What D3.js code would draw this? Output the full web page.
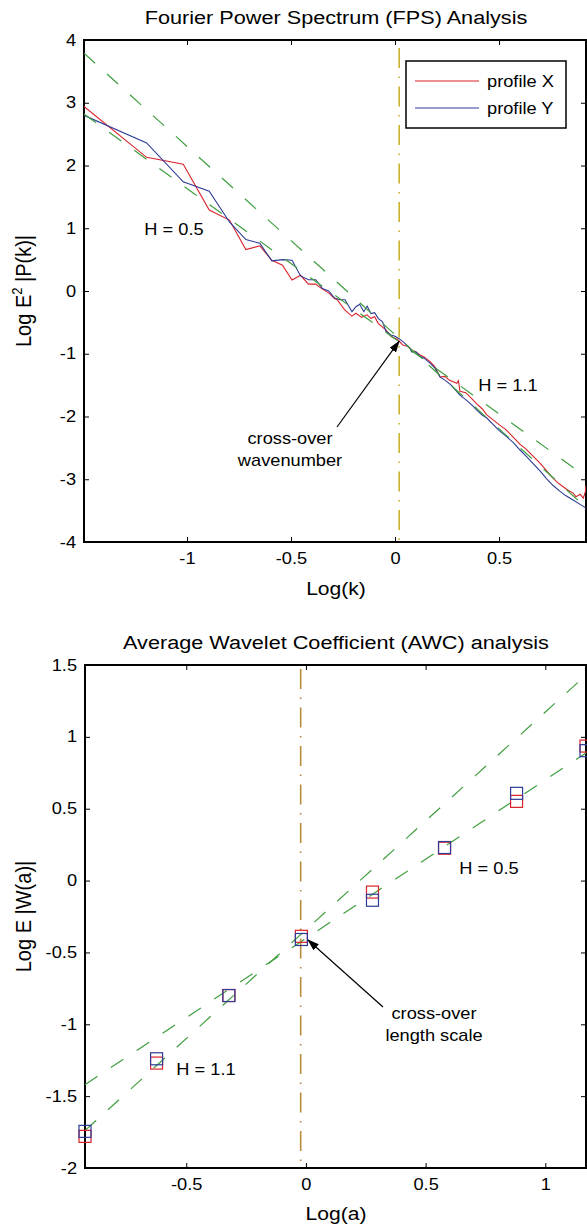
<!DOCTYPE html>
<html>
<head>
<meta charset="utf-8">
<script src="https://cdn.jsdelivr.net/npm/d3@7"></script>
<style>
  body { margin: 0; background: #fff; }
  text { font-family: "Liberation Sans", Arial, sans-serif; fill: #000; }
</style>
</head>
<body>
<div id="viz-container"></div>
<script>
// ---- FPS panel data ----
let fpsXk = [-1.495, -1.194, -1.018, -0.893, -0.796, -0.717, -0.65, -0.592, -0.541, -0.495,
  -0.454, -0.416, -0.381, -0.349, -0.319, -0.291, -0.278, -0.242, -0.207, -0.188,
  -0.161, -0.134, -0.116, -0.098, -0.08, -0.044, -0.017, 0.01, 0.02, 0.037, 0.06, 0.08,
  0.10, 0.12, 0.14, 0.17, 0.19, 0.217, 0.24, 0.26, 0.297, 0.305, 0.312, 0.34, 0.37, 0.393, 0.42,
  0.44, 0.47, 0.50, 0.53, 0.56, 0.60, 0.63, 0.66, 0.69, 0.72, 0.75, 0.78, 0.80, 0.83,
  0.856, 0.87, 0.89, 0.905, 0.915, 0.918];
let fpsXp = [2.94, 2.13, 2.02, 1.29, 1.13, 0.66, 0.72, 0.49, 0.41, 0.175,
  0.25, 0.11, 0.11, 0.03, -0.03, -0.12, -0.14, -0.30, -0.40, -0.355,
  -0.42, -0.38, -0.435, -0.41, -0.52, -0.62, -0.73, -0.77, -0.80, -0.86, -0.88, -0.94,
  -0.97, -1.02, -1.05, -1.13, -1.20, -1.37, -1.36, -1.42, -1.47, -1.43, -1.60, -1.62, -1.72, -1.80, -1.88,
  -1.97, -2.05, -2.13, -2.20, -2.30, -2.44, -2.52, -2.62, -2.72, -2.83, -2.95, -3.05, -3.10, -3.17,
  -3.22, -3.28, -3.24, -3.30, -3.20, -3.10];
let fpsYk = [-1.495, -1.194, -1.018, -0.893, -0.796, -0.717, -0.65, -0.592, -0.541, -0.495,
  -0.454, -0.416, -0.381, -0.349, -0.319, -0.291, -0.265, -0.24, -0.207, -0.188,
  -0.17, -0.15, -0.134, -0.116, -0.098, -0.08, -0.06, -0.044, -0.02, 0.0, 0.02, 0.046, 0.07, 0.08,
  0.10, 0.12, 0.14, 0.168, 0.19, 0.216, 0.24, 0.27, 0.312, 0.34, 0.37, 0.393, 0.42, 0.44,
  0.47, 0.50, 0.536, 0.57, 0.60, 0.63, 0.664, 0.70, 0.728, 0.76, 0.792, 0.82, 0.856, 0.89, 0.918];
let fpsYp = [2.80, 2.36, 1.74, 1.59, 1.10, 0.82, 0.76, 0.48, 0.50, 0.49,
  0.24, 0.18, 0.18, 0.04, 0.0, -0.11, -0.14, -0.14, -0.33, -0.25,
  -0.21, -0.33, -0.24, -0.36, -0.345, -0.44, -0.49, -0.64, -0.70, -0.72, -0.76, -0.83, -0.90, -0.97,
  -0.97, -1.04, -1.07, -1.15, -1.22, -1.37, -1.42, -1.50, -1.66, -1.73, -1.82, -1.90, -1.98, -2.02,
  -2.12, -2.22, -2.32, -2.42, -2.53, -2.63, -2.75, -2.88, -2.99, -3.10, -3.19, -3.26, -3.33, -3.40, -3.46];
let fpsFitK = [-1.495, 0.918];
let fpsFitLow = [2.82, -2.96];   // H = 0.5
let fpsFitHigh = [3.79, -3.45];  // H = 1.1
let fpsCross = 0.02;
let fpsXTicks = [-1, -0.5, 0, 0.5];
let fpsYTicks = [-4, -3, -2, -1, 0, 1, 2, 3, 4];

// ---- AWC panel data ----
let awcA = [-0.923, -0.624, -0.322, -0.019, 0.278, 0.579, 0.880, 1.17];
let awcX = [-1.78, -1.27, -0.80, -0.388, -0.08, 0.225, 0.551, 0.936];
let awcY = [-1.745, -1.24, -0.80, -0.41, -0.137, 0.23, 0.607, 0.904];
let awcFitA = [-0.923, 1.17];
let awcFitLow = [-1.74, 1.43];   // H = 1.1
let awcFitHigh = [-1.42, 0.888]; // H = 0.5
let awcCross = -0.022;
let awcXTicks = [-0.5, 0, 0.5, 1];
let awcYTicks = [-2, -1.5, -1, -0.5, 0, 0.5, 1, 1.5];

let width = 587;
let height = 1228;
let SX = 1.14; // the figure is a little wider than tall, text too
let red = '#d9232b', blue = '#2e3b97', green = '#3f9e3f';

let viz = d3.select('#viz-container')
  .append('svg')
  .attr('width', width)
  .attr('height', height);

let defs = viz.append('defs');
defs.append('marker')
  .attr('id', 'head')
  .attr('markerUnits', 'userSpaceOnUse')
  .attr('markerWidth', 12).attr('markerHeight', 8)
  .attr('refX', 11).attr('refY', 4)
  .attr('orient', 'auto')
  .append('path')
  .attr('d', 'M0,0 L12,4 L0,8 z')
  .attr('fill', '#000');

function label(g, x, y, str, size, anchor) {
  return g.append('text')
    .attr('transform', 'translate(' + x + ',' + y + ') scale(' + SX + ',1)')
    .attr('text-anchor', anchor || 'middle')
    .attr('font-size', size)
    .text(str);
}

function panel(id, x, y, xt, yt) {
  let g = viz.append('g');
  let x0 = x.range()[0], x1 = x.range()[1];
  let y0 = y.range()[1], y1 = y.range()[0];

  defs.append('clipPath').attr('id', id)
    .append('rect').attr('x', x0).attr('y', y0).attr('width', x1 - x0).attr('height', y1 - y0);

  let fmt = d => String(d);
  g.append('g').attr('transform', 'translate(0,' + y1 + ')')
    .call(d3.axisBottom(x).tickValues(xt).tickSize(-5).tickPadding(11).tickFormat(fmt));
  g.append('g').attr('transform', 'translate(0,' + y0 + ')')
    .call(d3.axisTop(x).tickValues(xt).tickSize(-5).tickFormat(''));
  g.append('g').attr('transform', 'translate(' + x0 + ',0)')
    .call(d3.axisLeft(y).tickValues(yt).tickSize(-5).tickPadding(7).tickFormat(fmt));
  g.append('g').attr('transform', 'translate(' + x1 + ',0)')
    .call(d3.axisRight(y).tickValues(yt).tickSize(-5).tickFormat(''));

  g.selectAll('.domain').remove();
  g.selectAll('.tick line').attr('stroke', '#000').attr('stroke-width', 1);
  g.selectAll('.tick text')
    .attr('font-size', 16)
    .attr('font-family', '"Liberation Sans", Arial, sans-serif')
    .attr('fill', '#000')
    .attr('transform', 'scale(' + SX + ',1)');

  g.append('rect')
    .attr('x', x0).attr('y', y0).attr('width', x1 - x0).attr('height', y1 - y0)
    .attr('fill', 'none').attr('stroke', '#000').attr('stroke-width', 2);

  let plot = viz.append('g').attr('clip-path', 'url(#' + id + ')');
  return plot;
}

// ================= FPS =================
let xF = d3.scaleLinear().domain([fpsFitK[0], fpsFitK[1]]).range([84, 586]);
let yF = d3.scaleLinear().domain([-4, 4]).range([542, 40]);
let pF = panel('clipF', xF, yF, fpsXTicks, fpsYTicks);

let lineF = d3.line().x(d => xF(d[0])).y(d => yF(d[1]));

pF.append('path')
  .datum(fpsXk.map((k, i) => [k, fpsXp[i]]))
  .attr('d', lineF).attr('fill', 'none').attr('stroke', red).attr('stroke-width', 1.1);
pF.append('path')
  .datum(fpsYk.map((k, i) => [k, fpsYp[i]]))
  .attr('d', lineF).attr('fill', 'none').attr('stroke', blue).attr('stroke-width', 1.1);

[fpsFitLow, fpsFitHigh].forEach(function(f) {
  pF.append('path')
    .datum(fpsFitK.map((k, i) => [k, f[i]]))
    .attr('d', lineF).attr('fill', 'none')
    .attr('stroke', green).attr('stroke-width', 1.2)
    .attr('stroke-dasharray', '15,16');
});

pF.append('line')
  .attr('x1', xF(fpsCross)).attr('x2', xF(fpsCross))
  .attr('y1', yF(4)).attr('y2', yF(-4))
  .attr('stroke', '#c8b22c').attr('stroke-width', 1.6)
  .attr('stroke-dasharray', '20,8.5,1.5,8.5')
  .attr('stroke-dashoffset', -8);

// legend
let leg = viz.append('g');
leg.append('rect').attr('x', 406).attr('y', 61).attr('width', 160).attr('height', 67)
  .attr('fill', '#fff').attr('stroke', '#000').attr('stroke-width', 1.5);
[[red, 'profile X', 81], [blue, 'profile Y', 108]].forEach(function(d) {
  leg.append('line').attr('x1', 415).attr('x2', 479).attr('y1', d[2]).attr('y2', d[2])
    .attr('stroke', d[0]).attr('stroke-width', 1.2);
  label(leg, 487, d[2] + 6, d[1], 16, 'start');
});

label(viz, 174, 235, 'H = 0.5', 16);
label(viz, 508, 391, 'H = 1.1', 16);
label(viz, 290, 444, 'cross-over', 16);
label(viz, 290, 466, 'wavenumber', 16);
viz.append('line')
  .attr('x1', 337).attr('y1', 427).attr('x2', xF(fpsCross)).attr('y2', yF(-0.8))
  .attr('stroke', '#000').attr('stroke-width', 1.2).attr('marker-end', 'url(#head)');

label(viz, 336, 24, 'Fourier Power Spectrum (FPS) Analysis', 19);
label(viz, 336, 595, 'Log(k)', 18.5);
let yl = viz.append('text')
  .attr('transform', 'translate(31,' + yF(0) + ') scale(' + SX + ',1) rotate(-90)')
  .attr('text-anchor', 'middle').attr('font-size', 20);
yl.append('tspan').text('Log E');
yl.append('tspan').text('2').attr('font-size', 13).attr('dy', -8);
yl.append('tspan').text(' |P(k)|').attr('dy', 8);

// ================= AWC =================
let xA = d3.scaleLinear().domain([awcFitA[0], awcFitA[1]]).range([85, 586]);
let yA = d3.scaleLinear().domain([-2, 1.5]).range([1168, 665]);
let pA = panel('clipA', xA, yA, awcXTicks, awcYTicks);

let lineA = d3.line().x(d => xA(d[0])).y(d => yA(d[1]));

[awcFitLow, awcFitHigh].forEach(function(f) {
  pA.append('path')
    .datum(awcFitA.map((a, i) => [a, f[i]]))
    .attr('d', lineA).attr('fill', 'none')
    .attr('stroke', green).attr('stroke-width', 1.2)
    .attr('stroke-dasharray', '15,16');
});

pA.append('line')
  .attr('x1', xA(awcCross)).attr('x2', xA(awcCross))
  .attr('y1', yA(1.5)).attr('y2', yA(-2))
  .attr('stroke', '#b98a3a').attr('stroke-width', 1.6)
  .attr('stroke-dasharray', '20,8.5,1.5,8.5')
  .attr('stroke-dashoffset', -4);

let sq = 12;
[[awcX, red], [awcY, blue]].forEach(function(s) {
  viz.append('g').selectAll('rect').data(s[0]).enter()
    .append('rect')
    .attr('x', (d, i) => xA(awcA[i]) - sq / 2)
    .attr('y', d => yA(d) - sq / 2)
    .attr('width', sq).attr('height', sq)
    .attr('fill', 'none').attr('stroke', s[1]).attr('stroke-width', 1.2);
});

label(viz, 489, 874, 'H = 0.5', 16);
label(viz, 206, 1075, 'H = 1.1', 16);
label(viz, 434, 1019, 'cross-over', 16);
label(viz, 434, 1041, 'length scale', 16);
viz.append('line')
  .attr('x1', 383).attr('y1', 1007).attr('x2', 308).attr('y2', 940)
  .attr('stroke', '#000').attr('stroke-width', 1.2).attr('marker-end', 'url(#head)');

label(viz, 336, 649, 'Average Wavelet Coefficient (AWC) analysis', 19);
label(viz, 336, 1220, 'Log(a)', 18.5);
viz.append('text')
  .attr('transform', 'translate(31,' + (yA(-2) + yA(1.5)) / 2 + ') scale(' + SX + ',1) rotate(-90)')
  .attr('text-anchor', 'middle').attr('font-size', 20)
  .text('Log E |W(a)|');
</script>
</body>
</html>
